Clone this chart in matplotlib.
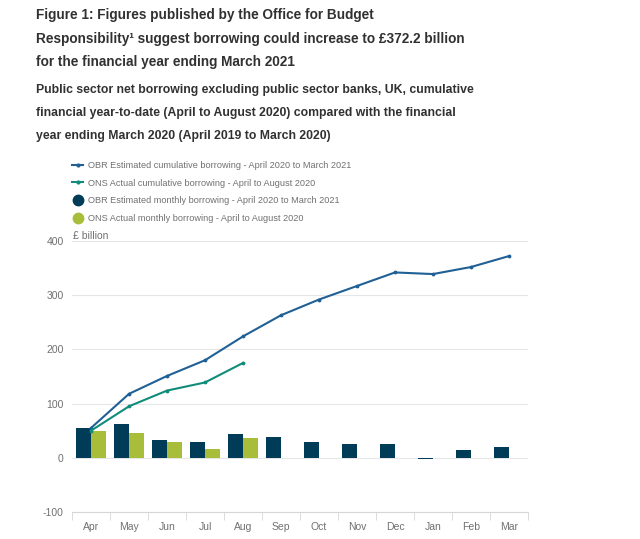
import matplotlib
matplotlib.use('Agg')
import matplotlib.pyplot as plt
from matplotlib.lines import Line2D
import numpy as np

plt.rcParams['font.family'] = ['Liberation Sans', 'DejaVu Sans']
plt.rcParams['axes.unicode_minus'] = False

# data (£ billion)
months = ['Apr', 'May', 'Jun', 'Jul', 'Aug', 'Sep', 'Oct', 'Nov', 'Dec', 'Jan', 'Feb', 'Mar']
obr_cum = [55, 118, 151, 180, 224, 263, 292, 317, 342, 339, 352, 372.2]
ons_cum = [50, 95, 124, 139, 175]
obr_month = [55.5, 62.5, 33.5, 29.5, 44.5, 39, 29, 25.5, 25.5, -3, 13.5, 20]
ons_month = [49.5, 45, 29.5, 15.5, 36]

title_lines = ['Figure 1: Figures published by the Office for Budget',
               'Responsibility¹ suggest borrowing could increase to £372.2 billion',
               'for the financial year ending March 2021']
sub_lines = ['Public sector net borrowing excluding public sector banks, UK, cumulative',
             'financial year-to-date (April to August 2020) compared with the financial',
             'year ending March 2020 (April 2019 to March 2020)']
legend_labels = ['OBR Estimated cumulative borrowing - April 2020 to March 2021',
                 'ONS Actual cumulative borrowing - April to August 2020',
                 'OBR Estimated monthly borrowing - April 2020 to March 2021',
                 'ONS Actual monthly borrowing - April to August 2020']

c_obr_line = '#206095'
c_ons_line = '#118c7b'
c_obr_bar = '#003c57'
c_ons_bar = '#a8bd3a'
grey = '#707071'

W, H = 640, 539
fig = plt.figure(figsize=(W / 100, H / 100), dpi=100)
ax = fig.add_axes([72 / W, 1 - 512 / H, (528 - 72) / W, (512 - 241) / H])

x = np.arange(len(months))
ax.bar(x - 0.2, obr_month, width=0.4, color=c_obr_bar, zorder=2)
ax.bar(x[:len(ons_month)] + 0.2, ons_month, width=0.4, color=c_ons_bar, zorder=2)
ax.plot(x, obr_cum, color=c_obr_line, lw=1.5, marker='.', ms=3.5, zorder=3)
ax.plot(x[:len(ons_cum)], ons_cum, color=c_ons_line, lw=1.5, marker='.', ms=3.5, zorder=3)

ax.set_xlim(-0.5, len(months) - 0.5)
ax.set_ylim(-100, 400)
ax.set_yticks([-100, 0, 100, 200, 300, 400])
ax.grid(axis='y', color='#e6e6e6', lw=0.8, zorder=0)
ax.set_axisbelow(True)
for s in ['top', 'right', 'left']:
    ax.spines[s].set_visible(False)
ax.spines['bottom'].set_color('#d6d6d6')
ax.set_xticks(x)
ax.set_xticklabels(months)
ax.set_xticks(np.arange(-0.5, len(months)), minor=True)
ax.tick_params(axis='x', which='major', length=0, pad=7, labelsize=7.5, labelcolor=grey)
ax.tick_params(axis='x', which='minor', length=6, color='#d6d6d6')
ax.tick_params(axis='y', length=0, pad=6, labelsize=7.5, labelcolor=grey)

fig.text(73 / W, 1 - 236 / H, '£ billion', fontsize=7.5, color=grey, va='center')

handles = [Line2D([], [], color=c_obr_line, lw=1.5, marker='.', ms=4),
           Line2D([], [], color=c_ons_line, lw=1.5, marker='.', ms=4),
           Line2D([], [], color=c_obr_bar, ls='none', marker='o', ms=7.5),
           Line2D([], [], color=c_ons_bar, ls='none', marker='o', ms=7.5)]
fig.legend(handles, legend_labels, loc='upper left', bbox_to_anchor=(72 / W, 1 - 161 / H),
           frameon=False, fontsize=6.6, labelcolor=grey, handlelength=1.2,
           handletextpad=0.5, labelspacing=0.95, borderpad=0, borderaxespad=0)

for i, t in enumerate(title_lines):
    fig.text(36 / W, 1 - (15 + 23.5 * i) / H, t, fontsize=9.8, fontweight='bold',
             color='#323132', va='center')
for i, t in enumerate(sub_lines):
    fig.text(36 / W, 1 - (90 + 23 * i) / H, t, fontsize=8.8, fontweight='bold',
             color='#323132', va='center')

fig.savefig('out.png', dpi=100)
